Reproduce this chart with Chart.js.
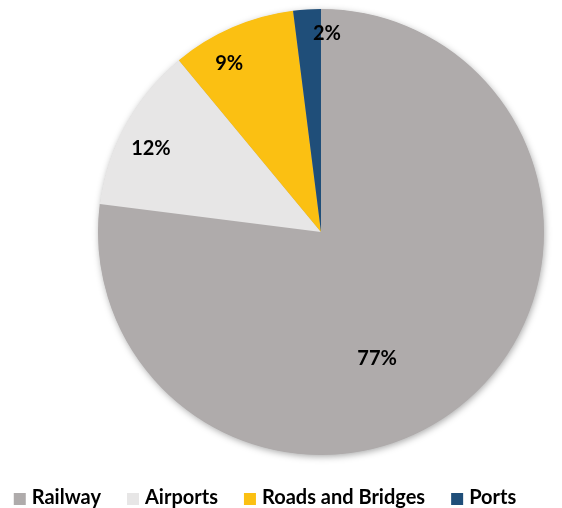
<!DOCTYPE html>
<html>
<head>
<meta charset="utf-8">
<script src="https://cdn.jsdelivr.net/npm/chart.js@4"></script>
<style>
  html, body { margin: 0; padding: 0; background: #ffffff; }
  canvas { display: block; }
</style>
</head>
<body>
<canvas id="pie" width="562" height="508"></canvas>
<script>
// ── Data ──────────────────────────────────────────────────────
const categories = ['Railway', 'Airports', 'Roads and Bridges', 'Ports'];
const shares     = [77, 12, 9, 2];
const colors     = ['#afabab', '#e7e6e6', '#fbc012', '#1f4e79'];

// where each % label sits inside its slice: t = fraction along the arc,
// f = fraction of the radius
const labelPlace = [
  { t: 0.563, f: 0.62 },
  { t: 0.44,  f: 0.85 },
  { t: 0.34,  f: 0.86 },
  { t: 1.24,  f: 0.89 }
];

const FONT = "'Lato', 'Noto Sans', sans-serif";

// ── Soft shadow under the whole pie ───────────────────────────
const pieShadow = {
  id: 'pieShadow',
  beforeDatasetsDraw(chart) {
    const arc = chart.getDatasetMeta(0).data[0];
    if (!arc) return;
    const p   = arc.getProps(['x', 'y', 'outerRadius'], true);
    const ctx = chart.ctx;
    ctx.save();
    ctx.shadowColor   = 'rgba(0,0,0,0.35)';
    ctx.shadowBlur    = 7;
    ctx.shadowOffsetX = 1;
    ctx.shadowOffsetY = 2;
    ctx.fillStyle     = colors[0];
    ctx.beginPath();
    ctx.arc(p.x, p.y, p.outerRadius - 0.5, 0, Math.PI * 2);
    ctx.fill();
    ctx.restore();
  }
};

// ── Percent labels on slices ──────────────────────────────────
const sliceLabels = {
  id: 'sliceLabels',
  afterDatasetsDraw(chart) {
    const ctx   = chart.ctx;
    const total = shares.reduce((a, b) => a + b, 0);
    const arcs  = chart.getDatasetMeta(0).data;
    ctx.save();
    ctx.font         = `bold 20px ${FONT}`;
    ctx.fillStyle    = '#000000';
    ctx.textAlign    = 'center';
    ctx.textBaseline = 'middle';
    arcs.forEach((arc, i) => {
      const p = arc.getProps(['x', 'y', 'startAngle', 'endAngle', 'outerRadius'], true);
      const a = p.startAngle + labelPlace[i].t * (p.endAngle - p.startAngle);
      const r = labelPlace[i].f * p.outerRadius;
      const txt = Math.round(shares[i] / total * 100) + '%';
      ctx.fillText(txt, p.x + Math.cos(a) * r, p.y + Math.sin(a) * r);
    });
    ctx.restore();
  }
};

// ── Legend drawn along the bottom ─────────────────────────────
const bottomLegend = {
  id: 'bottomLegend',
  afterDraw(chart) {
    const ctx  = chart.ctx;
    const box  = 12;
    const gap  = 6;
    const step = 26;
    ctx.save();
    ctx.font = `bold 20px ${FONT}`;
    const widths = categories.map(c => box + gap + ctx.measureText(c).width);
    const total  = widths.reduce((a, b) => a + b, 0) + step * (categories.length - 1);
    let x = 265 - total / 2;
    const yMid = 498;
    ctx.textBaseline = 'middle';
    ctx.textAlign    = 'left';
    categories.forEach((c, i) => {
      ctx.fillStyle = colors[i];
      ctx.fillRect(x, yMid - box / 2 + 1, box, box);
      ctx.fillStyle = '#000000';
      ctx.fillText(c, x + box + gap, yMid);
      x += widths[i] + step;
    });
    ctx.restore();
  }
};

new Chart(document.getElementById('pie').getContext('2d'), {
  type: 'pie',
  data: {
    labels: categories,
    datasets: [{
      data:            shares,
      backgroundColor: colors,
      borderWidth:     0
    }]
  },
  options: {
    responsive: false,
    animation:  false,
    layout: { padding: { left: 98, right: 18, top: 9, bottom: 53 } },
    plugins: {
      legend:  { display: false },
      tooltip: { enabled: false }
    }
  },
  plugins: [pieShadow, sliceLabels, bottomLegend]
});
</script>
</body>
</html>
